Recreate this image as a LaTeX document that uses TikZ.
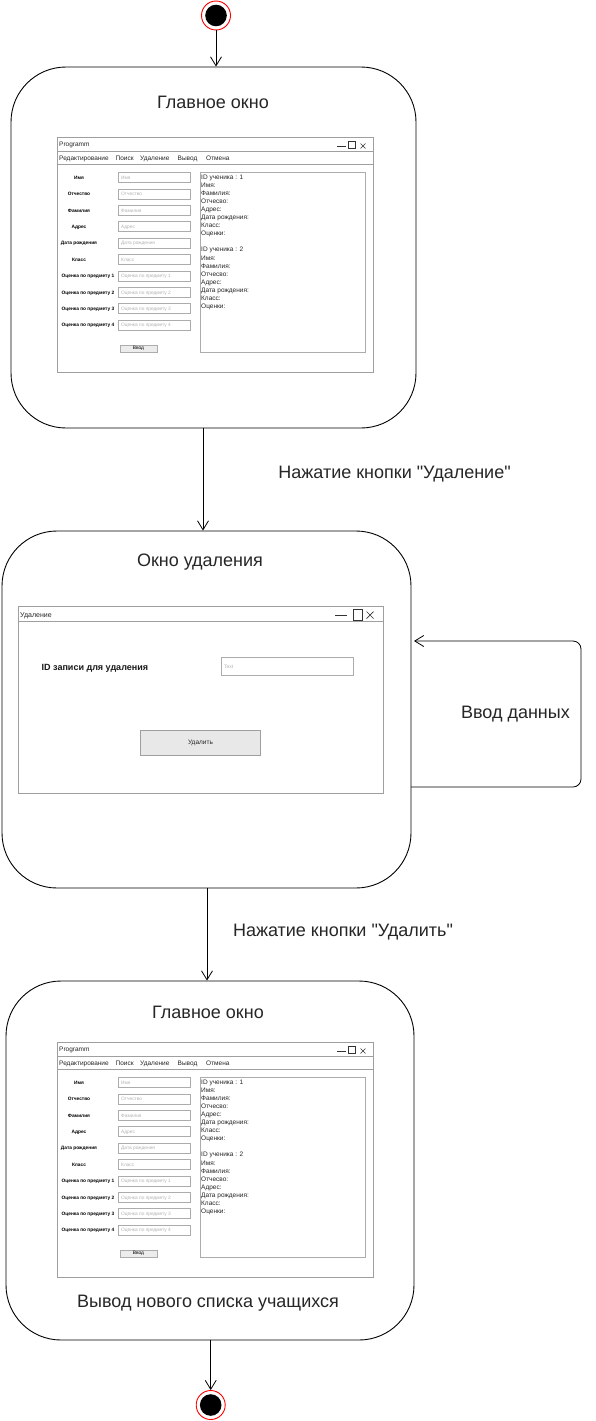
\documentclass[tikz,border=0pt]{standalone}
\usepackage{fontspec}
\setmainfont{Liberation Sans}[Ligatures=TeXOff]
\usetikzlibrary{arrows.meta}

\tikzset{
  state/.style={draw=black, line width=0.9pt, rounded corners=55pt, inner sep=0},
  pseudo/.style={circle, draw=red, fill=white, line width=0.9pt, minimum size=29pt, inner sep=0,
    path picture={\fill[black] (path picture bounding box.center) circle (10.8pt);}},
  flow/.style={draw=black, line width=0.8pt, -{Straight Barb[length=9pt,width=11pt]}},
  big/.style={font=\fontsize{18}{21}\selectfont, inner sep=0, text=black!85},
  win/.style={draw=gray!75, line width=0.8pt},
  ctrl/.style={draw=black!80, line width=0.7pt},
  field/.style={draw=gray!65, line width=0.6pt, fill=white, inner sep=0},
  tiny/.style={font=\fontsize{6.5}{8}\selectfont, inner sep=0, anchor=base west, text=black!85},
  lbl/.style={font=\bfseries\fontsize{4.8}{6}\selectfont, inner sep=0, anchor=base, text=black},
  hint/.style={font=\fontsize{4.8}{6}\selectfont, inner sep=0, anchor=base west, text=gray!60},
}

% Main form mock-up: #1 = name prefix, #2 = vertical offset
\newcommand{\formwin}[2]{%
\begin{scope}[shift={(0,#2)}]
  \draw[win] (57,137) rectangle (373,372);
  \draw[win] (57,151.5) -- (373,151.5);
  \draw[win] (57,164.5) -- (373,164.5);
  \node[tiny] (#1-title) at (59,146.8) {Programm};
  \draw[ctrl] (337,146) -- (346,146);
  \draw[ctrl] (348.5,141.5) rectangle (355.5,148.5);
  \draw[ctrl, line width=0.6pt] (360.5,143.5) -- (365.5,148.5) (360.5,148.5) -- (365.5,143.5);
  \foreach \mx/\mtxt [count=\k] in {59/Редактирование, 115.5/Поиск, 140/Удаление, 177.5/Вывод, 206/Отмена}
    \node[tiny] (#1-menu\k) at (\mx,160.3) {\mtxt};
  \foreach \ftxt/\cx [count=\k from 0] in {Имя/79, Отчество/79, Фамилия/79, Адрес/79,
      Дата рождения/79, Класс/79, Оценка по предмету 1/88, Оценка по предмету 2/88,
      Оценка по предмету 3/88, Оценка по предмету 4/88}
  {
    \node[lbl] (#1-lab\k) at (\cx,179.2+16.4*\k) {\ftxt};
    \node[field, minimum width=72pt, minimum height=10pt] (#1-fld\k) at (154,177.5+16.4*\k) {};
    \node[hint] (#1-hint\k) at (121,179.2+16.4*\k) {\ftxt};
  }
  \node[field, fill=gray!15, minimum width=37pt, minimum height=7pt,
        font=\fontsize{4.8}{6}\selectfont] (#1-btn) at (138.5,348.5) {Ввод};
  \node[field, minimum width=165pt, minimum height=180pt] (#1-list) at (282.5,262) {};
  \node[tiny] (#1-id1) at (201,179) {ID ученика : 1};
  \node[tiny] (#1-id2) at (201,251.9) {ID ученика : 2};
  \foreach \ltxt [count=\k] in {Имя:, Фамилия:, Отчесво:, Адрес:,
      Дата рождения:, Класс:, Оценки:}
  {
    \node[tiny] (#1-a\k) at (201,179+8.1*\k) {\ltxt};
    \node[tiny] (#1-b\k) at (201,251.9+8.1*\k) {\ltxt};
  }
\end{scope}}

\begin{document}
\begin{tikzpicture}[x=1pt, y=-1pt]
  \fill[white] (0,0) rectangle (595,1421);
  \useasboundingbox (0,0) rectangle (595,1421);

  % states
  \node[state, minimum width=405pt, minimum height=361pt] (s1) at (213.5,247.5) {};
  \node[state, minimum width=409pt, minimum height=357pt] (s2) at (206.5,709.5) {};
  \node[state, minimum width=408pt, minimum height=359pt] (s3) at (210,1160.5) {};

  % initial and final pseudo-states
  \node[pseudo] (start) at (216,15.5) {};
  \node[pseudo] (end) at (210.7,1405) {};

  % state titles
  \node[big] (t1) at (213,102) {Главное окно};
  \node[big] (t2) at (200,562) {Окно удаления};
  \node[big] (t3) at (208,1012) {Главное окно};
  \node[big] (t4) at (208,1303) {Вывод нового списка учащихся};

  % main windows
  \formwin{w1}{0}
  \formwin{w3}{905}

  % deletion window
  \draw[win] (18.5,606.5) rectangle (383.5,793);
  \draw[win] (18.5,621.5) -- (383.5,621.5);
  \node[font=\fontsize{7}{8}\selectfont, anchor=base west, inner sep=0, text=black!85] (del-title) at (20,617) {Удаление};
  \draw[ctrl, line width=0.8pt] (335,615) -- (347,615);
  \draw[ctrl, line width=0.8pt] (353,609.5) rectangle (362,620);
  \draw[ctrl] (366.5,611.5) -- (373.5,618.5) (366.5,618.5) -- (373.5,611.5);
  \node[font=\bfseries\fontsize{9}{11}\selectfont, anchor=base west, inner sep=0, text=black!90] (del-label) at (41.5,670.3) {ID записи для удаления};
  \node[field, minimum width=132pt, minimum height=18pt] (del-field) at (287.5,666.5) {};
  \node[hint, font=\fontsize{5}{6}\selectfont] (del-hint) at (224,668.3) {Text};
  \node[field, draw=gray!75, fill=gray!18, minimum width=119.5pt, minimum height=25pt,
        font=\fontsize{6.5}{8}\selectfont, text=black!85] (del-btn) at (200.5,743.2) {Удалить};

  % transitions
  \coordinate (c1) at (203,0);
  \coordinate (c2) at (207,0);
  \draw[flow] (start) -- (start |- s1.north);
  \draw[flow] (s1.south -| c1) -- (s2.north -| c1);
  \draw[flow] (s2.south -| c2) -- (s3.north -| c2);
  \draw[flow] (end |- s3.south) -- (end);

  % self loop on the deletion state
  \coordinate (l1) at (411,787);
  \coordinate (l2) at (581,787);
  \coordinate (l3) at (581,641);
  \coordinate (l4) at (414,641);
  \draw[flow, rounded corners=8pt] (l1) -- (l2) -- (l3) -- (l4);

  % transition labels
  \node[big] (e1) at (394.5,474) {Нажатие кнопки "Удаление"};
  \node[big] (e2) at (343,932) {Нажатие кнопки "Удалить"};
  \node[big] (e3) at (515.5,714) {Ввод данных};
\end{tikzpicture}
\end{document}
